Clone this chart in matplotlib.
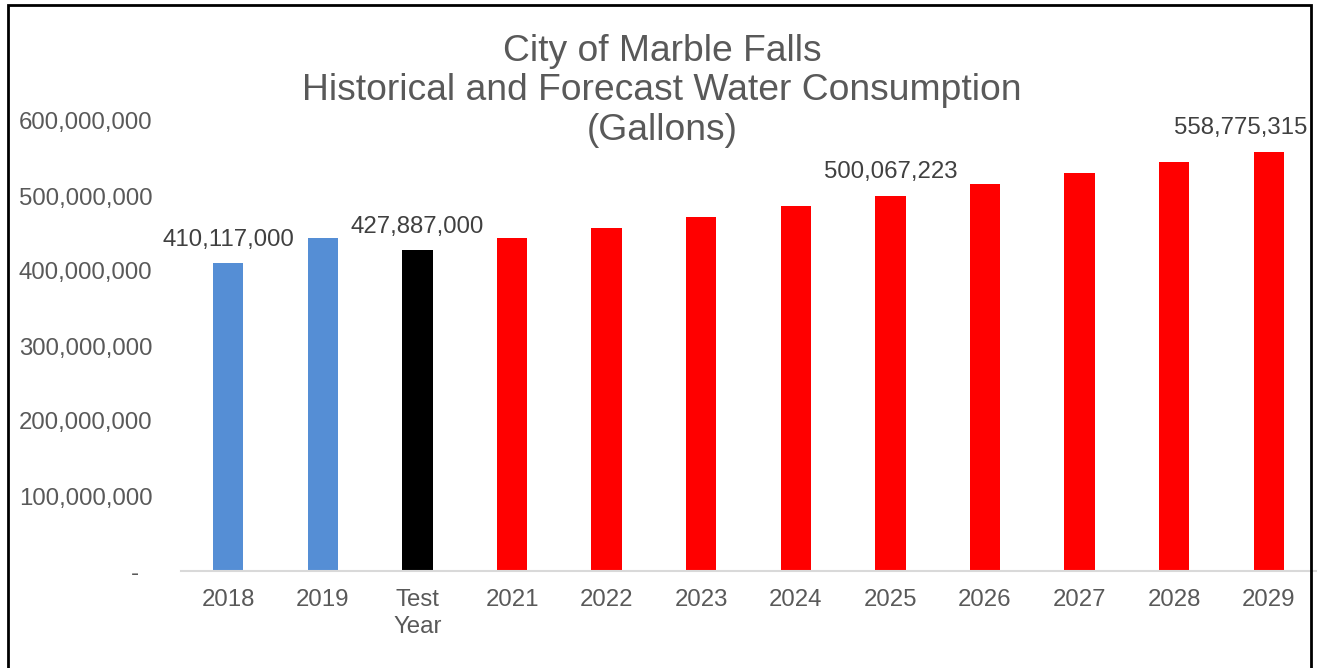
import matplotlib
matplotlib.use("Agg")
import matplotlib.pyplot as plt
from matplotlib.patches import Rectangle
from matplotlib.ticker import FuncFormatter

plt.rcParams['font.family'] = ['Liberation Sans', 'DejaVu Sans']

categories = ["2018", "2019", "Test\nYear", "2021", "2022", "2023", "2024",
              "2025", "2026", "2027", "2028", "2029"]
values = [410117000, 443600000, 427887000, 443600000, 457000000, 471600000,
          486300000, 500067223, 515600000, 530300000, 545000000, 558775315]
colors = ["#558ED5", "#558ED5", "#000000"] + ["#FF0000"] * 9
labeled = ["2018", "Test\nYear", "2025", "2029"]

W, H = 1319, 668
fig = plt.figure(figsize=(W / 100, H / 100), dpi=100)
ax = fig.add_axes([181 / W, 1 - 571 / H, (1316 - 181) / W, (571 - 121) / H])

x = list(range(len(categories)))
bars = ax.bar(x, values, width=0.32, color=colors, zorder=2)

for xi, cat, v in zip(x, categories, values):
    if cat in labeled:
        last = xi == len(categories) - 1
        ax.annotate(f"{v:,.0f}", (xi, v),
                    xytext=(28 if last else 0, 9), textcoords="offset points",
                    ha="right" if last else "center", va="bottom",
                    fontsize=17.3, color="#404040")

ax.set_xlim(-0.5, len(categories) - 0.5)
ax.set_ylim(0, 600000000)
ax.set_yticks(range(0, 600000001, 100000000))
ax.yaxis.set_major_formatter(FuncFormatter(lambda v, p: "-  " if v == 0 else f"{v:,.0f}"))
ax.set_xticks(x)
ax.set_xticklabels(categories, linespacing=1.28)
ax.tick_params(axis="both", length=0, labelsize=17.3, labelcolor="#595959")
ax.tick_params(axis="x", pad=13)
ax.tick_params(axis="y", pad=20.5)

for s in ["top", "right", "left"]:
    ax.spines[s].set_visible(False)
ax.spines["bottom"].set_color("#D9D9D9")
ax.spines["bottom"].set_linewidth(1.5)

fig.text(662 / W, 1 - 91 / H,
         "City of Marble Falls\nHistorical and Forecast Water Consumption\n(Gallons)",
         ha="center", va="center", fontsize=26.8, color="#595959", linespacing=1.17)

fig.patches.append(Rectangle((8 / W, -0.05), (1311 - 8) / W, 1.05 - 5 / H,
                             transform=fig.transFigure, fill=False,
                             edgecolor="black", linewidth=2))

fig.savefig("out.png", dpi=100)
